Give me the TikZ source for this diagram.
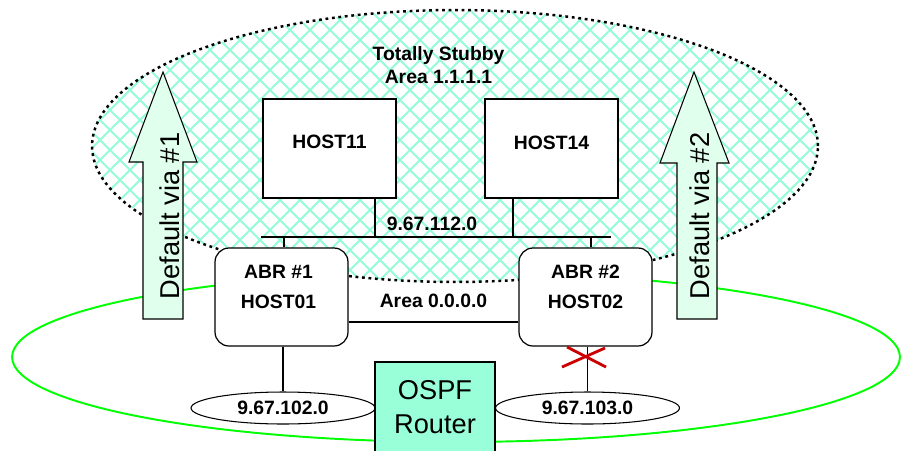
\documentclass[tikz,border=0pt]{standalone}
\usepackage{fontspec}
\setmainfont{Liberation Sans}
\usetikzlibrary{shapes.geometric}
\definecolor{hatchgreen}{RGB}{150,252,215}
\definecolor{viafill}{RGB}{224,255,236}
\definecolor{routerfill}{RGB}{153,255,216}
\definecolor{backbone}{RGB}{0,255,0}
\definecolor{xred}{RGB}{204,0,0}

\begin{document}
\begin{tikzpicture}[x=0.02cm, y=-0.02cm,
  bold/.style={font=\bfseries\fontsize{11}{13}\selectfont},
  big/.style={font=\fontsize{15.5}{19}\selectfont},
  hostbox/.style={draw, fill=white, line width=0.7pt, inner sep=0pt, minimum width=2.66cm, minimum height=1.98cm},
  abrbox/.style={hostbox, rounded corners=0.28cm, minimum height=1.96cm},
  netoval/.style={ellipse, draw, fill=white, line width=0.6pt, inner sep=0pt, minimum width=3.68cm, minimum height=0.64cm, bold},
  hatch/.style={hatchgreen, line width=1.1pt},
  link/.style={line width=1.2pt},
  tap/.style={line width=0.6pt},
  via/.style={draw, fill=viafill, line width=0.6pt, line join=miter},
  cross/.style={xred, line width=1.6pt}]

\useasboundingbox (0,0) rectangle (901,450);

\draw[backbone, line width=1.1pt] (456,357) ellipse [x radius=8.88cm, y radius=1.7cm];

\begin{scope}
\clip (455,146) ellipse [x radius=7.26cm, y radius=2.72cm];
\fill[white] (455,146) ellipse [x radius=7.26cm, y radius=2.72cm];
\foreach \a in {-220,-200,...,1120} {
  \draw[hatch] (\a,0) -- ++(300,300);
  \draw[hatch] (\a,0) -- ++(-300,300);
}
\end{scope}
\draw[line width=1.4pt, dash pattern=on 1.6pt off 2.1pt] (455,146) ellipse [x radius=7.26cm, y radius=2.72cm];

\filldraw[black] (438.5,65.5) node[bold, align=center] (stubby) {Totally Stubby\\Area 1.1.1.1};
\filldraw[black] (432,224) node[bold] (net112) {9.67.112.0};

\coordinate (bus-l) at (261,237);
\coordinate (bus-r) at (611,237);
\coordinate (tap11) at (375,237);
\coordinate (tap14) at (513,237);
\coordinate (tapA) at (284,237);
\coordinate (tapB) at (591,237);
\draw[link] (bus-l) -- (bus-r);

\node[hostbox, label={[bold, yshift=0.13cm]center:HOST11}] (host11) at (329.5,148.5) {};
\node[hostbox, label={[bold, yshift=0.11cm]center:HOST14}] (host14) at (551.5,148.5) {};
\draw[link] (host11.south -| tap11) -- (tap11);
\draw[link] (host14.south -| tap14) -- (tap14);

\node[abrbox, label={[bold, font=\bfseries\fontsize{11}{17}\selectfont, align=center, yshift=0.2cm, xshift=-0.06cm]center:{ABR \#1\\HOST01}}] (abr1) at (281.5,297) {};
\node[abrbox, label={[bold, font=\bfseries\fontsize{11}{17}\selectfont, align=center, yshift=0.2cm]center:{ABR \#2\\HOST02}}] (abr2) at (585.5,297) {};
\draw[link] (tapA) -- (abr1.north -| tapA);
\draw[link] (tapB) -- (abr2.north -| tapB);
\draw[link] ([yshift=-0.5cm]abr1.east) -- node[bold, yshift=0.42cm] (area0) {Area 0.0.0.0} ([yshift=-0.5cm]abr2.west);

\filldraw[via] (143,319) -- (143,162) -- (129,162) -- (163,72) -- (197,162) -- (183,162) -- (183,319) -- cycle;
\node[big, rotate=90] (via1) at (170,216) {Default via \#1};
\filldraw[via] (677,319) -- (677,163) -- (660,163) -- (694,72) -- (729,163) -- (717,163) -- (717,319) -- cycle;
\node[big, rotate=90] (via2) at (700,216) {Default via \#2};

\node[netoval] (net102) at (283,408) {9.67.102.0};
\node[netoval] (net103) at (587.5,408) {9.67.103.0};
\draw[tap] (abr1.south -| net102.north) -- (net102.north);
\draw[tap] (abr2.south -| net103.north) -- (net103.north);

\node[draw, fill=routerfill, line width=0.6pt, inner sep=0pt, minimum width=2.4cm, minimum height=1.8cm, big, align=center] (router) at (435,407) {OSPF\\Router};

\coordinate (cut) at (585,357);
\draw[cross] ([shift={(-23,10)}]cut) -- ([shift={(20,-9)}]cut);
\draw[cross] ([shift={(-18,-10)}]cut) -- ([shift={(21,10)}]cut);
\end{tikzpicture}
\end{document}
